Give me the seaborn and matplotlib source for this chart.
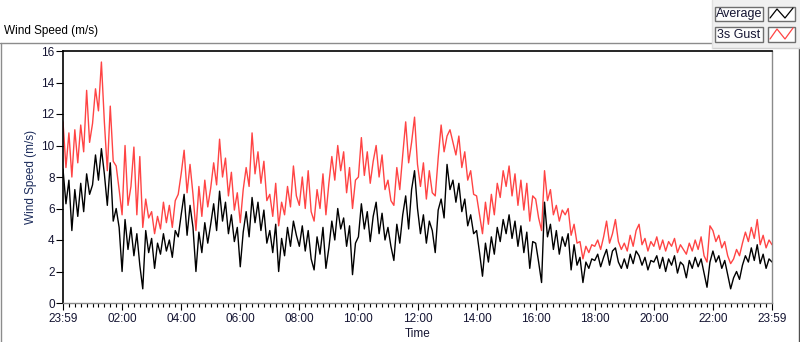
import numpy as np
import pandas as pd
import matplotlib
matplotlib.use("Agg")
import matplotlib.pyplot as plt
import seaborn as sns
from matplotlib.lines import Line2D
from matplotlib.patches import Rectangle

# ---------------- data (6-minute samples, hours since 23:59) ----------------
average = [
    8.5, 6.3, 7.8, 4.6, 7.2, 5.5, 7.6, 5.8, 8.2, 6.9,
    7.5, 9.4, 7.8, 9.8, 8.2, 6.2, 8.9, 5.2, 6.0, 4.8,
    2.0, 5.3, 3.4, 4.8, 3.0, 4.4, 2.4, 0.9, 4.6, 3.2,
    4.1, 2.2, 3.8, 3.1, 4.4, 3.3, 4.0, 2.9, 4.6, 4.2,
    5.6, 6.9, 4.3, 6.2, 4.8, 2.0, 4.5, 3.2, 5.1, 3.8,
    5.0, 6.3, 4.6, 7.1, 5.2, 6.4, 4.4, 5.6, 3.9, 4.8,
    2.3, 4.5, 5.8, 4.2, 6.7, 5.1, 6.4, 4.6, 5.9, 3.8,
    4.6, 3.2, 5.0, 2.0, 4.1, 3.0, 4.8, 3.6, 5.2, 4.3,
    3.6, 4.9, 3.3, 4.6, 2.8, 2.1, 4.2, 3.1, 4.8, 2.2,
    3.5, 5.2, 4.0, 6.0, 4.7, 5.4, 3.6, 4.9, 1.8, 3.8,
    4.2, 6.3, 4.7, 5.8, 3.9, 5.5, 6.4, 4.4, 5.7, 4.0,
    4.8, 3.6, 2.7, 5.0, 3.8, 5.6, 6.8, 4.7, 7.2, 8.4,
    6.0, 4.4, 5.6, 3.8, 5.2, 4.6, 3.2, 5.9, 6.6, 5.4,
    8.8, 7.2, 7.8, 6.4, 7.6, 5.8, 6.6, 4.9, 5.6, 4.4,
    4.6, 3.2, 1.7, 3.8, 2.6, 4.2, 3.1, 4.8, 3.9, 5.3,
    4.4, 5.6, 4.1, 5.2, 3.6, 4.9, 3.2, 4.5, 2.2, 3.9,
    3.8, 2.6, 1.3, 6.4, 4.2, 5.0, 3.4, 4.6, 3.1, 4.2,
    3.6, 4.4, 2.1, 3.7, 2.4, 2.9, 1.3, 2.6, 2.2, 2.8,
    2.7, 3.1, 2.3, 2.9, 3.4, 2.4, 3.3, 3.5, 2.6, 2.2,
    2.8, 2.2, 3.1, 2.5, 3.3, 3.0, 2.4, 2.9, 2.1, 2.7,
    2.6, 3.0, 2.2, 2.9, 2.0, 2.8, 2.4, 3.0, 1.9, 2.6,
    2.4, 1.6, 2.7, 2.2, 2.9, 2.3, 2.8, 1.9, 1.0, 2.6,
    3.3, 2.6, 3.0, 2.2, 2.7, 1.8, 0.9, 1.6, 2.0, 1.5,
    2.4, 3.0, 2.6, 3.5, 2.7, 3.7, 2.5, 3.1, 2.2, 2.8,
    2.6,
]

gust_3s = [
    11.5, 8.6, 10.8, 8.0, 11.0, 8.9, 11.3, 9.6, 13.5, 10.2,
    11.4, 13.6, 12.2, 15.3, 11.5, 8.4, 12.5, 9.0, 8.7, 7.2,
    5.6, 10.0, 6.2, 7.4, 9.9, 5.6, 9.3, 4.8, 6.6, 5.4,
    5.8, 4.4, 5.5, 4.7, 6.4, 5.1, 6.2, 4.8, 6.5, 6.9,
    8.2, 9.7, 7.0, 8.8, 6.9, 4.6, 7.4, 5.5, 7.8, 6.1,
    7.3, 8.9, 7.5, 10.4, 8.0, 9.2, 6.8, 8.3, 5.9, 7.0,
    5.1, 7.2, 8.6, 7.4, 10.8, 8.2, 9.6, 7.6, 9.0, 6.5,
    6.9, 5.5, 7.6, 4.9, 6.4, 5.6, 7.4, 6.1, 8.7, 6.8,
    6.2, 8.0, 6.0, 8.4, 5.8, 5.2, 7.2, 6.0, 8.2, 5.6,
    7.6, 9.3, 7.8, 10.0, 8.4, 9.6, 7.0, 8.6, 6.0, 7.8,
    8.0, 10.5, 8.1, 9.6, 7.6, 9.0, 10.0, 8.0, 9.4, 7.2,
    7.8, 6.5, 6.2, 8.6, 7.2, 9.4, 11.5, 8.9, 10.2, 11.8,
    8.8, 7.4, 8.9, 6.6, 8.4, 7.0, 6.8, 9.2, 11.3, 9.6,
    10.6, 11.0, 10.2, 9.4, 10.6, 8.6, 9.6, 7.8, 8.4, 6.9,
    6.8, 5.6, 4.4, 6.4, 5.0, 6.9, 5.6, 7.6, 6.7, 8.4,
    7.4, 8.7, 6.8, 8.2, 6.2, 7.8, 5.9, 7.6, 5.2, 6.8,
    6.6, 5.4, 4.6, 8.4, 6.5, 7.2, 5.6, 6.2, 5.2, 5.9,
    5.6, 6.0, 4.3, 5.0, 3.8, 3.9, 2.8, 3.6, 3.2, 3.7,
    3.6, 4.0, 3.4, 4.2, 5.2, 3.8, 4.4, 5.3, 3.9, 3.4,
    3.8, 3.3, 4.3, 3.6, 4.6, 5.0, 3.7, 4.1, 3.3, 3.9,
    3.6, 4.2, 3.4, 4.0, 3.3, 3.9, 3.6, 4.1, 3.2, 3.7,
    3.4, 3.1, 3.8, 3.3, 4.0, 3.4, 4.2, 3.0, 2.6, 4.9,
    4.6, 3.9, 4.3, 3.5, 3.9, 3.0, 2.5, 2.8, 3.4, 3.0,
    3.8, 4.5, 3.9, 4.8, 4.1, 5.3, 3.7, 4.3, 3.5, 4.0,
    3.7,
]

x_tick_labels = ["23:59", "02:00", "04:00", "06:00", "08:00", "10:00", "12:00",
                 "14:00", "16:00", "18:00", "20:00", "22:00", "23:59"]
y_tick_values = [0, 2, 4, 6, 8, 10, 12, 14, 16]
series_names = ["Average", "3s Gust"]

# ---------------- style ----------------
sns.set_style("white")
plt.rcParams['font.family'] = ['Liberation Sans', 'DejaVu Sans']

W, H = 800, 342
TXT = "#141432"
RED = "#ff4444"

def fx(x):
    return x / W

def fy(y):
    return 1 - y / H

fig = plt.figure(figsize=(W / 100, H / 100), dpi=100)
fig.patch.set_facecolor("white")

ax = fig.add_axes([fx(63), fy(303), (772 - 63) / W, (303 - 51) / H])

t = np.arange(len(average)) * 0.1
df = pd.DataFrame({"Time": t, "Average": average, "3s Gust": gust_3s})

sns.lineplot(data=df, x="Time", y="3s Gust", color=RED, lw=1.0, ax=ax,
             estimator=None, legend=False)
sns.lineplot(data=df, x="Time", y="Average", color="black", lw=1.0, ax=ax,
             estimator=None, legend=False)

ax.set_xlim(0, 24)
ax.set_ylim(0, 16)
ax.set_xticks(np.arange(0, 24.01, 2))
ax.set_xticklabels(x_tick_labels)
ax.set_xticks(np.arange(0, 24.01, 0.2), minor=True)
ax.set_yticks(y_tick_values)
ax.set_yticklabels([str(v) for v in y_tick_values])

ax.tick_params(axis="both", which="both", bottom=True, left=True, top=False,
               right=False, direction="out", color="black", width=0.8)
ax.tick_params(axis="x", which="major", length=5, labelsize=8.5, pad=2,
               labelcolor=TXT)
ax.tick_params(axis="x", which="minor", length=3)
ax.tick_params(axis="y", which="major", length=5, labelsize=8.5, pad=1,
               labelcolor=TXT)

for side in ["top", "left"]:
    ax.spines[side].set_color("black")
    ax.spines[side].set_linewidth(1.2)
for side in ["right", "bottom"]:
    ax.spines[side].set_color("#8a8a8a")
    ax.spines[side].set_linewidth(1.0)

ax.set_xlabel("Time", fontsize=8.5, color=TXT)
ax.xaxis.set_label_coords(0.5, (303 - 334) / 252)
ax.xaxis.label.set_va("center")
ax.set_ylabel("Wind Speed (m/s)", fontsize=8.5, color="#1c2c5c")
ax.yaxis.set_label_coords((31 - 63) / 709, 0.5)
ax.yaxis.label.set_va("center")

# ---------------- outer frame ----------------
frame = "#8c8c8c"
fig.add_artist(Line2D([fx(0), fx(712)], [fy(42.5), fy(42.5)], color=frame, lw=1))
fig.add_artist(Line2D([fx(0.5), fx(0.5)], [fy(42.5), fy(342)], color=frame, lw=1))
fig.add_artist(Line2D([fx(799), fx(799)], [fy(48), fy(342)], color="#505050", lw=1))

# legend panel
fig.add_artist(Rectangle((fx(712), fy(48)), (800 - 712) / W, 48 / H,
                         facecolor="#f0f0f0", edgecolor="none"))
fig.add_artist(Line2D([fx(712), fx(800)], [fy(48), fy(48)], color="#d0d0d0", lw=1))
fig.add_artist(Line2D([fx(712), fx(712)], [fy(0), fy(48)], color="#e0e0e0", lw=1))

fig.text(fx(4), fy(31), "Wind Speed (m/s)", fontsize=8.5, color="black",
         ha="left", va="center")

rows = [(7, 21, "black"), (27, 42, RED)]
for (y0, y1, col), name in zip(rows, series_names):
    fig.add_artist(Rectangle((fx(715), fy(y1)), 48 / W, (y1 - y0) / H,
                             facecolor="#fcfcfc", edgecolor="#6e6e6e", lw=1))
    fig.text(fx(739), fy((y0 + y1) / 2), name, fontsize=9, color=TXT,
             ha="center", va="center")
    fig.add_artist(Rectangle((fx(768), fy(y1)), 27 / W, (y1 - y0) / H,
                             facecolor="white", edgecolor="#6e6e6e", lw=1))
    zx = [770, 777, 785, 793]
    zy = [y1 - 3, y0 + 2, y1 - 3, y0 + 1]
    fig.add_artist(Line2D([fx(v) for v in zx], [fy(v) for v in zy],
                          color=col, lw=0.9))

fig.savefig("out.png", dpi=100, facecolor="white")
